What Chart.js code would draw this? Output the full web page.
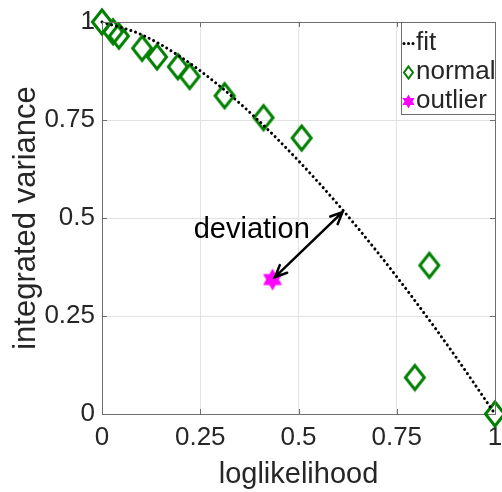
<!DOCTYPE html>
<html>
<head>
<meta charset="utf-8">
<script src="https://cdn.jsdelivr.net/npm/chart.js@4"></script>
<style>
  html, body { margin: 0; padding: 0; background: #fff; }
  #wrap { width: 502px; height: 492px; }
</style>
</head>
<body>
<div id="wrap"><canvas id="myChart"></canvas></div>
<script>
// values
const normalX = [0, 0.028, 0.043, 0.102, 0.14, 0.193, 0.223, 0.312, 0.411, 0.508, 0.833, 0.796, 1.0];
const normalY = [1.0, 0.975, 0.964, 0.933, 0.911, 0.886, 0.861, 0.812, 0.756, 0.704, 0.379, 0.093, 0.0];
const outlierX = [0.434];
const outlierY = [0.343];
const fitX = [0, 0.1, 0.2, 0.3, 0.4, 0.5, 0.6, 0.7, 0.8, 0.9, 1.0];
const fitY = [1.0, 0.968, 0.911, 0.836, 0.747, 0.646, 0.535, 0.414, 0.284, 0.146, 0.0];
const tickValues = [0, 0.25, 0.5, 0.75, 1];
const tickLabels = ["0", "0.25", "0.5", "0.75", "1"];
const legendLabels = ["fit", "normal", "outlier"];
const arrowStart = [0.612, 0.515];
const arrowEnd = [0.44, 0.349];
const noteText = "deviation";
const notePos = [0.381, 0.47];

const GREEN = "#008000";
const MAGENTA = "#ff00ff";
const TEXT = "#262626";
const AXIS = "#6e6e6e";
const FONT = "'Liberation Sans', Arial, sans-serif";

function toPoints(xs, ys) {
  return xs.map((x, i) => ({ x: x, y: ys[i] }));
}

function diamondPath(ctx, cx, cy, hw, hh) {
  ctx.beginPath();
  ctx.moveTo(cx, cy - hh);
  ctx.lineTo(cx + hw, cy);
  ctx.lineTo(cx, cy + hh);
  ctx.lineTo(cx - hw, cy);
  ctx.closePath();
}

function hexagramPath(ctx, cx, cy, r) {
  ctx.beginPath();
  for (let t = 0; t < 2; t++) {
    for (let k = 0; k < 3; k++) {
      const a = -Math.PI / 2 + t * Math.PI + k * 2 * Math.PI / 3;
      const px = cx + r * Math.cos(a), py = cy + r * Math.sin(a);
      if (k === 0) ctx.moveTo(px, py); else ctx.lineTo(px, py);
    }
    ctx.closePath();
  }
}

// marker images
const diamondImg = document.createElement("canvas");
diamondImg.width = 26; diamondImg.height = 30;
(function () {
  const c = diamondImg.getContext("2d");
  c.strokeStyle = GREEN;
  c.lineWidth = 3;
  c.lineJoin = "miter";
  diamondPath(c, 13, 15, 9.5, 12);
  c.stroke();
})();

const starImg = document.createElement("canvas");
starImg.width = 26; starImg.height = 26;
(function () {
  const c = starImg.getContext("2d");
  c.fillStyle = MAGENTA;
  hexagramPath(c, 13, 13, 11);
  c.fill();
})();

// frame, inward ticks, arrow, note and legend
const extras = {
  id: "extras",
  afterDatasetsDraw(chart) {
    const { ctx, chartArea: a, scales: { x, y } } = chart;
    ctx.save();
    ctx.strokeStyle = AXIS;
    ctx.lineWidth = 1;
    ctx.beginPath();
    ctx.moveTo(a.left, a.top + 0.5);
    ctx.lineTo(a.right + 0.5, a.top + 0.5);
    ctx.lineTo(a.right + 0.5, a.bottom);
    ctx.stroke();
    ctx.beginPath();
    tickValues.forEach(v => {
      const px = Math.round(x.getPixelForValue(v)) + 0.5;
      ctx.moveTo(px, a.bottom); ctx.lineTo(px, a.bottom - 5);
      ctx.moveTo(px, a.top); ctx.lineTo(px, a.top + 5);
      const py = Math.round(y.getPixelForValue(v)) + 0.5;
      ctx.moveTo(a.left, py); ctx.lineTo(a.left + 5, py);
      ctx.moveTo(a.right, py); ctx.lineTo(a.right - 5, py);
    });
    ctx.stroke();

    // double headed arrow
    const x1 = x.getPixelForValue(arrowStart[0]), y1 = y.getPixelForValue(arrowStart[1]);
    const x2 = x.getPixelForValue(arrowEnd[0]), y2 = y.getPixelForValue(arrowEnd[1]);
    const ang = Math.atan2(y2 - y1, x2 - x1);
    const head = 13, spread = 0.42;
    ctx.strokeStyle = "#000";
    ctx.lineWidth = 2.5;
    ctx.lineCap = "round";
    ctx.beginPath();
    ctx.moveTo(x1, y1); ctx.lineTo(x2, y2);
    [[x2, y2, ang], [x1, y1, ang + Math.PI]].forEach(([hx, hy, an]) => {
      ctx.moveTo(hx - head * Math.cos(an - spread), hy - head * Math.sin(an - spread));
      ctx.lineTo(hx, hy);
      ctx.lineTo(hx - head * Math.cos(an + spread), hy - head * Math.sin(an + spread));
    });
    ctx.stroke();

    ctx.fillStyle = "#000";
    ctx.font = "29px " + FONT;
    ctx.textAlign = "center";
    ctx.textBaseline = "middle";
    ctx.fillText(noteText, x.getPixelForValue(notePos[0]), y.getPixelForValue(notePos[1]));

    // legend box in the top right corner
    const bx = 401.5, by = a.top + 0.5, bw = a.right - 401, bh = 92;
    ctx.fillStyle = "#fff";
    ctx.fillRect(bx, by, bw, bh);
    ctx.strokeStyle = AXIS;
    ctx.lineWidth = 1;
    ctx.strokeRect(bx, by, bw, bh);

    const rows = [by + 20, by + 49, by + 78];
    ctx.fillStyle = TEXT;
    ctx.font = "26px " + FONT;
    ctx.textAlign = "left";
    legendLabels.forEach((t, i) => ctx.fillText(t, 416, rows[i]));

    ctx.fillStyle = "#000";
    [404, 408.5, 413].forEach(dx => {
      ctx.beginPath(); ctx.arc(dx, rows[0] + 1, 1.5, 0, Math.PI * 2); ctx.fill();
    });
    ctx.strokeStyle = GREEN;
    ctx.lineWidth = 2;
    diamondPath(ctx, 408.5, rows[1] + 1, 4.5, 6);
    ctx.stroke();
    ctx.fillStyle = MAGENTA;
    hexagramPath(ctx, 408.5, rows[2] + 1, 7);
    ctx.fill();
    ctx.restore();
  }
};

const ctx = document.getElementById("myChart");
new Chart(ctx, {
  type: "scatter",
  data: {
    datasets: [
      {
        label: "fit",
        type: "line",
        data: toPoints(fitX, fitY),
        borderColor: "#000",
        borderWidth: 3,
        borderDash: [0.01, 5],
        borderCapStyle: "round",
        cubicInterpolationMode: "monotone",
        pointRadius: 0,
        fill: false,
        clip: false,
      },
      {
        label: "normal",
        data: toPoints(normalX, normalY),
        pointStyle: diamondImg,
        pointRadius: 12,
        clip: false,
      },
      {
        label: "outlier",
        data: toPoints(outlierX, outlierY),
        pointStyle: starImg,
        pointRadius: 11,
        clip: false,
      },
    ],
  },
  options: {
    responsive: true,
    maintainAspectRatio: false,
    animation: false,
    events: [],
    layout: { autoPadding: false, padding: { top: 22, right: 7, left: 0, bottom: 0 } },
    plugins: {
      legend: { display: false },
      tooltip: { enabled: false },
    },
    scales: {
      x: {
        type: "linear",
        min: 0,
        max: 1,
        afterBuildTicks: s => { s.ticks = tickValues.map(v => ({ value: v })); },
        afterFit: s => { s.height = 78; s.paddingLeft = 0; s.paddingRight = 0; },
        ticks: {
          callback: (v) => tickLabels[tickValues.indexOf(v)],
          color: TEXT,
          font: { family: FONT, size: 26 },
          padding: 8,
          maxRotation: 0,
        },
        grid: { color: "#e2e2e2", drawTicks: false },
        border: { color: AXIS, width: 1 },
        title: {
          display: true,
          text: "loglikelihood",
          color: TEXT,
          font: { family: FONT, size: 29 },
          padding: { top: 0, bottom: 0 },
        },
      },
      y: {
        type: "linear",
        min: 0,
        max: 1,
        afterBuildTicks: s => { s.ticks = tickValues.map(v => ({ value: v })); },
        afterFit: s => { s.width = 102; s.paddingTop = 0; s.paddingBottom = 0; },
        ticks: {
          callback: (v) => tickLabels[tickValues.indexOf(v)],
          color: TEXT,
          font: { family: FONT, size: 26 },
          padding: 7,
        },
        grid: { color: "#e2e2e2", drawTicks: false },
        border: { color: AXIS, width: 1 },
        title: {
          display: true,
          text: "integrated variance",
          color: TEXT,
          font: { family: FONT, size: 31 },
          padding: { top: 8, bottom: 0 },
        },
      },
    },
  },
  plugins: [extras],
});
</script>
</body>
</html>
